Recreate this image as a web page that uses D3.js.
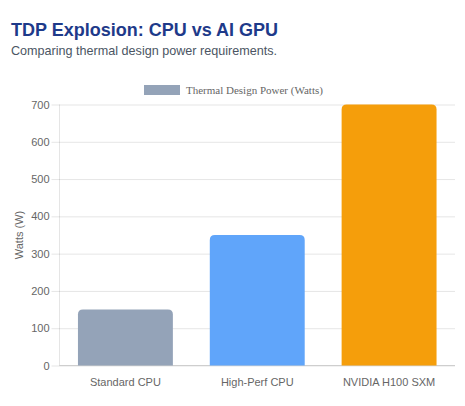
<!DOCTYPE html>
<html lang="en">
<head>
<meta charset="UTF-8">
<script src="https://cdn.jsdelivr.net/npm/d3@7"></script>
<title>TDP Explosion</title>
<style>
    body { margin: 0; background: #fff; }
    .title { font: bold 18px "Liberation Sans", Arial, sans-serif; fill: #1e3a8a; }
    .subtitle { font: 12.6px "Liberation Sans", Arial, sans-serif; fill: #4b5563; }
    .axis text { font: 11px "Liberation Sans", Arial, sans-serif; fill: #666; }
    .axis .domain { stroke: none; }
    .axis .tick line { stroke: rgba(0,0,0,0.1); }
    .legend text { font: 11px "Liberation Serif", "Times New Roman", serif; fill: #666; }
</style>
</head>
<body>
<svg id="chart" width="465" height="406"></svg>
<script>
    var categories = ["Standard CPU", "High-Perf CPU", "NVIDIA H100 SXM"],
        watts = [150, 350, 700],
        colors = ["#94a3b8", "#60a5fa", "#f59e0b"],
        yTicks = [0, 100, 200, 300, 400, 500, 600, 700],
        seriesName = "Thermal Design Power (Watts)";

    var svg = d3.select("svg#chart"),
        plotLeft = 59.5, plotRight = 455, plotTop = 104.5, plotBottom = 365.5;

    svg.append("text").attr("class", "title").attr("x", 11).attr("y", 36)
        .text("TDP Explosion: CPU vs AI GPU");
    svg.append("text").attr("class", "subtitle").attr("x", 11).attr("y", 54.5)
        .text("Comparing thermal design power requirements.");

    var x = d3.scaleBand().domain(categories).range([plotLeft, plotRight]);
    var y = d3.scaleLinear().domain([0, 700]).range([plotBottom, plotTop]);

    // grid + y ticks
    var yAxis = svg.append("g").attr("class", "axis")
        .attr("transform", "translate(" + plotLeft + ",0)")
        .call(d3.axisLeft(y).tickValues(yTicks).tickSize(-(plotRight - plotLeft)).tickPadding(10));
    yAxis.selectAll(".tick line").attr("x1", -8);

    // vertical axis line
    svg.append("line").attr("x1", plotLeft).attr("x2", plotLeft).attr("y1", plotTop).attr("y2", plotBottom)
        .attr("stroke", "rgba(0,0,0,0.1)");

    // x axis
    var xAxis = svg.append("g").attr("class", "axis")
        .attr("transform", "translate(0," + plotBottom + ")")
        .call(d3.axisBottom(x).tickSize(0).tickPadding(13));
    xAxis.selectAll(".tick line").remove();
    svg.append("line").attr("x1", plotLeft).attr("x2", plotRight).attr("y1", plotBottom).attr("y2", plotBottom)
        .attr("stroke", "rgba(0,0,0,0.15)");

    // bars, top corners rounded
    var bw = x.bandwidth() * 0.72, r = 5;
    function barPath(d, i) {
        var cx = x(categories[i]) + x.bandwidth() / 2,
            x0 = cx - bw / 2, x1 = cx + bw / 2,
            y0 = y(d), y1 = y(0);
        return "M" + x0 + "," + y1 + "V" + (y0 + r) + "Q" + x0 + "," + y0 + " " + (x0 + r) + "," + y0 +
            "H" + (x1 - r) + "Q" + x1 + "," + y0 + " " + x1 + "," + (y0 + r) + "V" + y1 + "Z";
    }
    svg.append("g").selectAll("path").data(watts).enter().append("path")
        .attr("d", barPath)
        .attr("fill", function(d, i) { return colors[i]; });

    // y axis title
    svg.append("text")
        .attr("transform", "translate(23," + ((plotTop + plotBottom) / 2) + ") rotate(-90)")
        .attr("text-anchor", "middle")
        .style("font", "11px 'Liberation Sans', Arial, sans-serif").style("fill", "#666")
        .text("Watts (W)");

    // legend
    var legend = svg.append("g").attr("class", "legend");
    legend.append("rect").attr("x", 144).attr("y", 85).attr("width", 36).attr("height", 10)
        .attr("fill", colors[0]);
    legend.append("text").attr("x", 186).attr("y", 93.5).text(seriesName);
</script>
</body>
</html>
